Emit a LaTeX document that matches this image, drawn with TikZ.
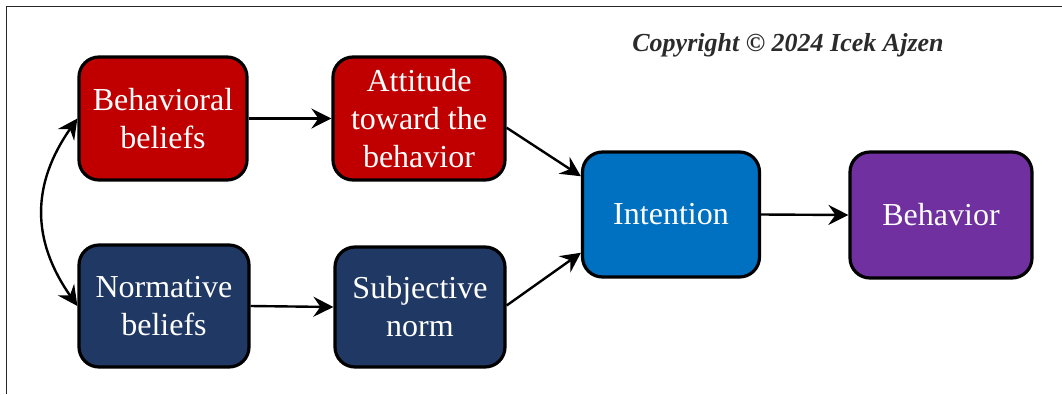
\documentclass[tikz,border=0pt]{standalone}
\usepackage{fontspec}
\setmainfont{Liberation Serif}
\usetikzlibrary{arrows.meta}
\definecolor{cred}{HTML}{C00000}
\definecolor{cnavy}{HTML}{1F3864}
\definecolor{cblue}{HTML}{0070C0}
\definecolor{cpurple}{HTML}{7030A0}
\definecolor{ctext}{HTML}{2B2B2B}
\tikzset{
  box/.style={draw=black, line width=3.2pt, rounded corners=20pt, text=white,
    align=center, inner sep=0pt, font=\fontsize{32}{38}\selectfont},
  conn/.style={line width=2.4pt, -{Stealth[length=20pt,width=20pt,inset=7pt]}},
  conn2/.style={line width=2.4pt, {Stealth[length=20pt,width=20pt,inset=7pt]}-{Stealth[length=20pt,width=20pt,inset=7pt]}},
}
\begin{document}
\begin{tikzpicture}[x=1pt,y=-1pt]
\useasboundingbox (0,0) rectangle (1062,394);
\draw[line width=1.4pt, black!85] (6.5,394) -- (6.5,6.5) -- (1062,6.5);
\node[box, fill=cred, minimum width=168pt, minimum height=123pt] (bb) at (163,118.5) {Behavioral\\beliefs};
\node[box, fill=cred, minimum width=172pt, minimum height=123pt] (att) at (419,118.5) {Attitude\\toward the\\behavior};
\node[box, fill=cnavy, minimum width=170pt, minimum height=122pt] (nb) at (164,306) {Normative\\beliefs};
\node[box, fill=cnavy, minimum width=170pt, minimum height=120pt] (sn) at (420,307) {Subjective\\norm};
\node[box, fill=cblue, minimum width=177pt, minimum height=125pt] (int) at (671,214.5) {Intention};
\node[box, fill=cpurple, minimum width=182pt, minimum height=126pt] (beh) at (941,215) {Behavior};
\node[anchor=base, text=ctext, font=\fontsize{26}{30}\selectfont\bfseries\itshape] (copy) at (788,51) {Copyright © 2024 Icek Ajzen};
\draw[conn] (bb.east) -- (att.west);
\draw[conn] (nb.east) -- (sn.west);
\draw[conn] (att.-6) -- (int.157);
\draw[conn] (sn.1) -- (int.203);
\draw[conn] (int.east) -- (beh.west);
\draw[conn2] (bb.west) to[out=235,in=125,looseness=1.1] (nb.west);
\end{tikzpicture}
\end{document}
